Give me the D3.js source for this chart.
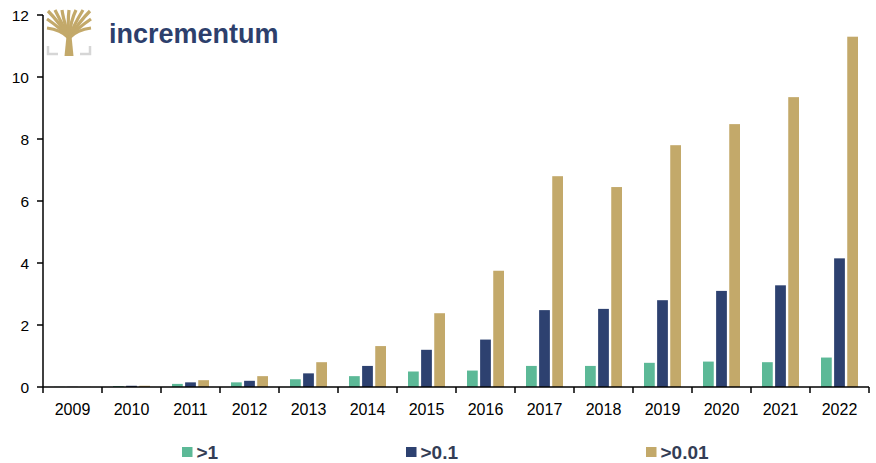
<!DOCTYPE html>
<html>
<head>
<meta charset="utf-8">
<script src="https://cdn.jsdelivr.net/npm/d3@7"></script>
<style>
  body { margin: 0; background: #fff; }
  svg { display: block; font-family: Arial, "Liberation Sans", sans-serif; }
</style>
</head>
<body>
<svg width="876" height="463"></svg>
<script>
// jaren en de drie reeksen
var years = ["2009", "2010", "2011", "2012", "2013", "2014", "2015", "2016", "2017", "2018", "2019", "2020", "2021", "2022"];
var seriesNames = [">1", ">0.1", ">0.01"];
var gt1 = [0.005, 0.03, 0.1, 0.15, 0.25, 0.35, 0.5, 0.53, 0.68, 0.68, 0.78, 0.82, 0.8, 0.95];
var gt01 = [0.005, 0.04, 0.15, 0.2, 0.44, 0.68, 1.2, 1.53, 2.48, 2.52, 2.8, 3.1, 3.28, 4.15];
var gt001 = [0.005, 0.04, 0.22, 0.35, 0.8, 1.32, 2.38, 3.75, 6.8, 6.45, 7.8, 8.48, 9.35, 11.3];
var yTicks = [0, 2, 4, 6, 8, 10, 12];
var colors = ["#5cb997", "#2d4170", "#c3a96a"];

var svg = d3.select("svg");

var values = [gt1, gt01, gt001];
var data = years.map(function (yr, i) {
    return { year: yr, vals: values.map(function (v) { return v[i]; }) };
});

var x = d3.scaleBand().domain(years).range([43, 869]).padding(0);
var y = d3.scaleLinear().domain([0, 12]).range([387, 15]);
var xSub = d3.scaleBand().domain([0, 1, 2])
    .range([x.bandwidth() / 2 - 18.5, x.bandwidth() / 2 + 18.5])
    .paddingInner(0.18);
var z = d3.scaleOrdinal().domain([0, 1, 2]).range(colors);

// balken
svg.append("g")
    .selectAll("g")
    .data(data)
    .enter().append("g")
    .attr("transform", function (d) { return "translate(" + x(d.year) + ",0)"; })
    .selectAll("rect")
    .data(function (d) { return d.vals; })
    .enter().append("rect")
    .attr("x", function (d, i) { return xSub(i); })
    .attr("width", xSub.bandwidth())
    .attr("y", function (d) { return y(d); })
    .attr("height", function (d) { return y(0) - y(d); })
    .attr("fill", function (d, i) { return z(i); });

// x as
var xAxis = svg.append("g")
    .attr("transform", "translate(0," + y(0) + ")");
xAxis.append("line")
    .attr("x1", 43).attr("x2", 869)
    .attr("stroke", "#000").attr("stroke-width", 1.5);
xAxis.selectAll(".tk")
    .data(years.concat(["end"]))
    .enter().append("line")
    .attr("x1", function (d, i) { return 43 + i * x.step(); })
    .attr("x2", function (d, i) { return 43 + i * x.step(); })
    .attr("y1", 0).attr("y2", 6)
    .attr("stroke", "#000").attr("stroke-width", 1.5);
xAxis.selectAll("text")
    .data(years)
    .enter().append("text")
    .attr("x", function (d) { return x(d) + x.bandwidth() / 2; })
    .attr("y", 28)
    .attr("text-anchor", "middle")
    .attr("font-size", 16)
    .attr("fill", "#000")
    .text(function (d) { return d; });

// y as
var yAxis = svg.append("g");
yAxis.append("line")
    .attr("x1", 43).attr("x2", 43)
    .attr("y1", y(12)).attr("y2", y(0))
    .attr("stroke", "#000").attr("stroke-width", 1.5);
yAxis.selectAll(".tk")
    .data(yTicks)
    .enter().append("line")
    .attr("x1", 37).attr("x2", 43)
    .attr("y1", function (d) { return y(d); })
    .attr("y2", function (d) { return y(d); })
    .attr("stroke", "#000").attr("stroke-width", 1.5);
yAxis.selectAll("text")
    .data(yTicks)
    .enter().append("text")
    .attr("x", 29)
    .attr("y", function (d) { return y(d); })
    .attr("dy", "0.36em")
    .attr("text-anchor", "end")
    .attr("font-size", 15.5)
    .attr("fill", "#000")
    .text(function (d) { return d; });

// legenda
var legendX = [182, 406, 646];
var legend = svg.append("g")
    .selectAll("g")
    .data(seriesNames)
    .enter().append("g")
    .attr("transform", function (d, i) { return "translate(" + legendX[i] + ",447)"; });
legend.append("rect")
    .attr("width", 10.5).attr("height", 10)
    .attr("fill", function (d, i) { return colors[i]; });
legend.append("text")
    .attr("x", 14.5)
    .attr("y", 5)
    .attr("dy", "0.36em")
    .attr("font-size", 19)
    .attr("font-weight", "bold")
    .attr("fill", "#333d55")
    .text(function (d) { return d; });

// logo
var logo = svg.append("g").attr("transform", "translate(47,10)");
logo.append("path")
    .attr("d", "M1,36 V44 H11 M33,44 H43 V36")
    .attr("fill", "none").attr("stroke", "#d6d6d6").attr("stroke-width", 2.5);
var gold = "#c3a96a";
logo.append("path")
    .attr("d", "M17.5,46 L19.5,26 L24.5,26 L26.5,46 Z")
    .attr("fill", gold);
var branches = [
    "M22,28 C16,22 8,19 0,18",
    "M22,28 C14,19 6,13 0,9",
    "M22,28 C15,17 7,7 1,1",
    "M22,28 C17,17 12,8 8,0",
    "M22,28 C19,17 16,8 15,0",
    "M22,28 C21,17 21,8 22,0",
    "M22,28 C23,17 25,8 29,0",
    "M22,28 C26,17 31,8 36,0",
    "M22,28 C29,17 37,7 43,1",
    "M22,28 C30,19 38,13 44,9",
    "M22,28 C28,22 36,19 44,18"
];
logo.selectAll(".br")
    .data(branches)
    .enter().append("path")
    .attr("d", function (d) { return d; })
    .attr("fill", "none")
    .attr("stroke", gold)
    .attr("stroke-width", 3.2);

svg.append("text")
    .attr("x", 109)
    .attr("y", 43)
    .attr("font-size", 27)
    .attr("font-weight", "bold")
    .attr("fill", "#2d3f6c")
    .text("incrementum");
</script>
</body>
</html>
